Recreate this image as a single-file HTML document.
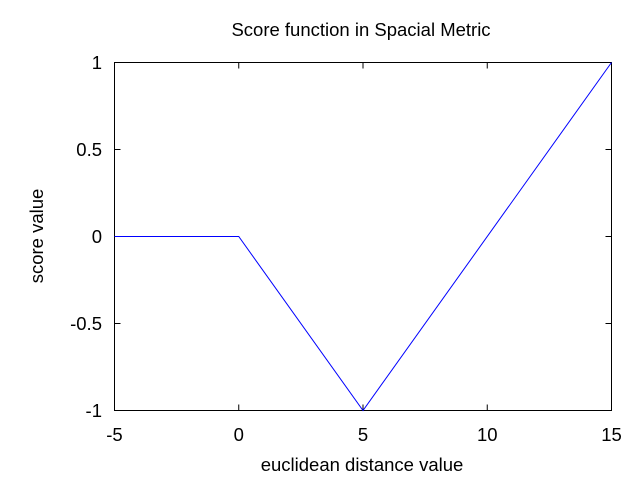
<!DOCTYPE html>
<html><head><meta charset="utf-8"><style>
body{margin:0;background:#fff;}
svg{display:block;font-family:"Liberation Sans",sans-serif;}
</style></head><body>
<svg id="chart" width="640" height="480">
<text x="361" y="36" text-anchor="middle" font-size="18.5">Score function in Spacial Metric</text>
<text x="362" y="471" text-anchor="middle" font-size="18.5">euclidean distance value</text>
<text transform="translate(43,236) rotate(-90)" text-anchor="middle" font-size="18.5">score value</text>
<rect x="114.5" y="62.5" width="497" height="348" fill="none" stroke="#000" stroke-width="1"/>
<g id="ticks"></g>
<polyline id="series" fill="none" stroke="#0000ff" stroke-width="1"/>
</svg>
<script>
const xTicks=[-5,0,5,10,15];
const xTickLabels=["-5","0","5","10","15"];
const yTicks=[-1,-0.5,0,0.5,1];
const yTickLabels=["-1","-0.5","0","0.5","1"];
const xValues=[-5,0,5,15];
const yValues=[0,0,-1,1];
const L=114.5,R=611.5,T=62.5,B=410.5;
function sx(v){return L+(v+5)/20*(R-L);}
function sy(v){return B-(v+1)/2*(B-T);}
const ns="http://www.w3.org/2000/svg";
const g=document.getElementById('ticks');
function mk(tag,attrs){const e=document.createElementNS(ns,tag);for(const k in attrs)e.setAttribute(k,attrs[k]);return e;}
xTicks.forEach((v,i)=>{
  const x=sx(v);
  const t1=mk('line',{x1:x,x2:x,y1:B,y2:B-6,stroke:'#000'});
  
  
  g.appendChild(t1);
  const t2=mk('line',{x1:x,x2:x,y1:T,y2:T+6,stroke:'#000'});
  
  
  g.appendChild(t2);
  const tx=mk('text',{x:x,y:441,'text-anchor':'middle','font-size':'18.5'});
  tx.textContent=xTickLabels[i];
  
  
  g.appendChild(tx);
});
yTicks.forEach((v,i)=>{
  const y=sy(v);
  const t1=mk('line',{x1:L,x2:L+6,y1:y,y2:y,stroke:'#000'});
  
  
  g.appendChild(t1);
  const t2=mk('line',{x1:R,x2:R-6,y1:y,y2:y,stroke:'#000'});
  
  
  g.appendChild(t2);
  const tx=mk('text',{x:102,y:y+6.5,'text-anchor':'end','font-size':'18.5'});
  tx.textContent=yTickLabels[i];
  
  
  g.appendChild(tx);
});
document.getElementById('series').setAttribute('points',xValues.map((v,i)=>sx(v)+','+sy(yValues[i])).join(' '));
</script>
</body></html>
